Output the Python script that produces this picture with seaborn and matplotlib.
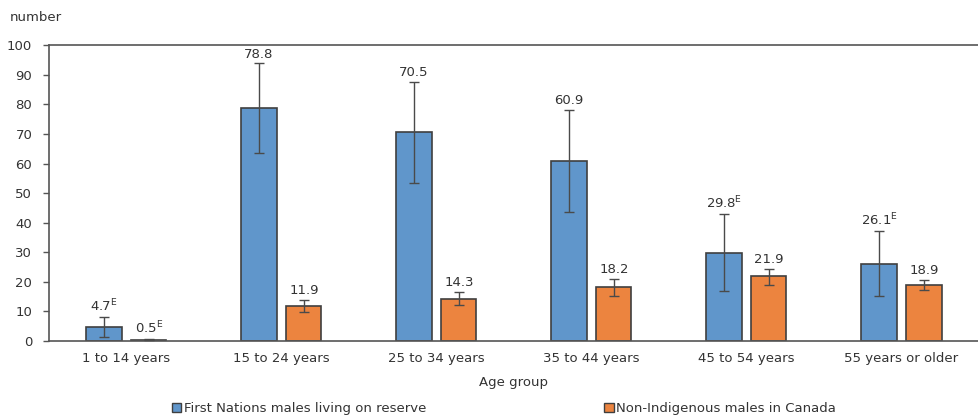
import pandas as pd
import seaborn as sns
import matplotlib.pyplot as plt

ages = ['1 to 14 years', '15 to 24 years', '25 to 34 years',
        '35 to 44 years', '45 to 54 years', '55 years or older']
series = ['First Nations males living on reserve', 'Non-Indigenous males in Canada']

fn_vals = [4.7, 78.8, 70.5, 60.9, 29.8, 26.1]
fn_low = [1.4, 63.4, 53.3, 43.5, 17.0, 15.2]
fn_high = [8.1, 93.8, 87.6, 78.0, 42.8, 37.2]
fn_flag = ['E', '', '', '', 'E', 'E']

ni_vals = [0.5, 11.9, 14.3, 18.2, 21.9, 18.9]
ni_low = [0.3, 9.9, 12.2, 15.4, 18.9, 17.2]
ni_high = [0.8, 13.9, 16.7, 21.1, 24.5, 20.6]
ni_flag = ['E', '', '', '', '', '']

df = pd.DataFrame({
    'Age group': ages * 2,
    'series': [series[0]] * 6 + [series[1]] * 6,
    'value': fn_vals + ni_vals,
})

sns.set_style('white')
plt.rcParams['font.family'] = ['DejaVu Sans']
colors = ['#6096CB', '#EC843F']
edge = '#3F3F3F'

fig = plt.figure(figsize=(9.79, 4.18), dpi=100)
ax = fig.add_axes([0.050, 0.184, 0.950, 0.708])

sns.barplot(data=df, x='Age group', y='value', hue='series', hue_order=series,
            order=ages, palette=colors, saturation=1, width=0.58, gap=0.22,
            errorbar=None, edgecolor=edge, linewidth=1.2, legend=False, ax=ax)

lows = [fn_low, ni_low]
highs = [fn_high, ni_high]
vals = [fn_vals, ni_vals]
flags = [fn_flag, ni_flag]
bar_groups = list(ax.containers)
for k, cont in enumerate(bar_groups):
    for i, bar in enumerate(cont):
        xc = bar.get_x() + bar.get_width() / 2
        v = vals[k][i]
        ax.errorbar(xc, v, yerr=[[v - lows[k][i]], [highs[k][i] - v]],
                    fmt='none', ecolor='#4a4a4a', elinewidth=1, capsize=3.5,
                    capthick=1, zorder=5)
        lab = f'{v:.1f}'
        if flags[k][i]:
            lab += r'$^{\mathregular{' + flags[k][i] + '}}$'
        ax.text(xc, highs[k][i] + 2.0, lab, ha='center', va='baseline',
                fontsize=9.5, color='#333333')

ax.set_ylim(0, 100)
ax.set_xlim(-0.5, 5.5)
ax.set_yticks(range(0, 101, 10))
ax.tick_params(axis='y', length=4, width=1, color='#555555', left=True,
               labelsize=9.5, labelcolor='#333333', pad=8)
ax.tick_params(axis='x', length=0, labelsize=9.5, labelcolor='#333333', pad=8)
for s in ['left', 'bottom', 'top']:
    ax.spines[s].set_color('#555555')
    ax.spines[s].set_linewidth(1.2)
ax.spines['right'].set_visible(False)
ax.set_xlabel('Age group', fontsize=9.5, color='#333333', labelpad=8)
ax.set_ylabel('')
fig.text(0.010, 0.958, 'number', fontsize=9.5, color='#333333', va='center')

handles = [plt.Rectangle((0, 0), 1, 1, facecolor=c, edgecolor=edge, linewidth=1)
           for c in colors]
fig.legend(handles, series, loc='lower center', bbox_to_anchor=(0.515, -0.022),
           ncol=2, frameon=False, fontsize=9.5, handlelength=0.7, handleheight=0.7,
           handletextpad=0.2, columnspacing=13.5, labelcolor='#333333')

fig.savefig('out.png', dpi=100)
